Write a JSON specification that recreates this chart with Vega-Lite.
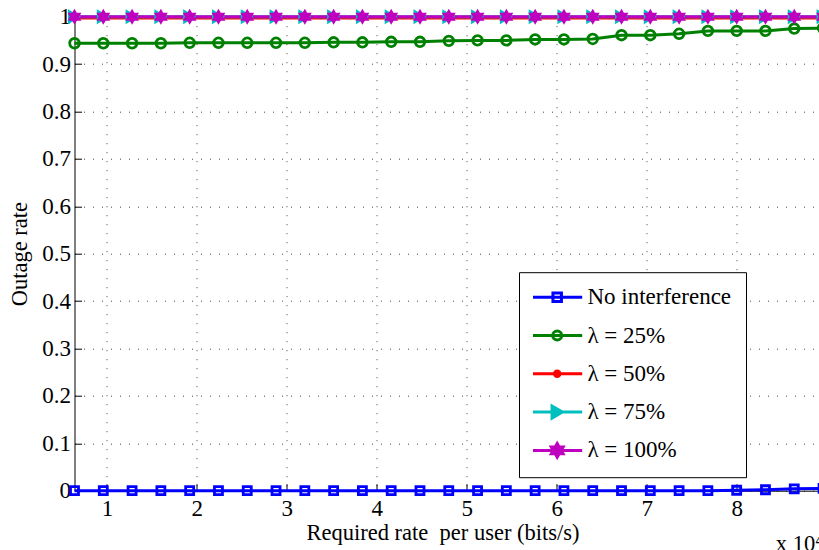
{
  "$schema": "https://vega.github.io/schema/vega-lite/v6.json",
  "width": 744.5,
  "height": 474,
  "autosize": "none",
  "padding": {"left": 74.5, "top": 16.7, "right": 0, "bottom": 59.3},
  "background": "white",
  "config": {
    "view": {"stroke": null},
    "font": "Liberation Serif",
    "axis": {
      "labelFont": "Liberation Serif",
      "labelFontSize": 23,
      "labelColor": "black",
      "titleFont": "Liberation Serif",
      "titleFontSize": 22.5,
      "titleFontWeight": "normal",
      "titleColor": "black",
      "domainColor": "black",
      "domainWidth": 1,
      "tickColor": "black",
      "tickSize": -7,
      "tickWidth": 1,
      "grid": true,
      "gridColor": "#444444",
      "gridDash": [1, 8],
      "gridWidth": 1,
      "gridOpacity": 1
    }
  },
  "title": {
    "text": "x 10⁴",
    "orient": "bottom",
    "anchor": "end",
    "frame": "group",
    "offset": 0,
    "font": "Liberation Serif",
    "fontSize": 22.5,
    "fontWeight": "normal",
    "color": "black",
    "dx": 4,
    "dy": -11
  },
  "data": {
    "values": [
      {"rate": 0.64, "outage": 0, "series": "No interference"},
      {"rate": 0.96, "outage": 0, "series": "No interference"},
      {"rate": 1.28, "outage": 0, "series": "No interference"},
      {"rate": 1.6, "outage": 0, "series": "No interference"},
      {"rate": 1.92, "outage": 0, "series": "No interference"},
      {"rate": 2.24, "outage": 0, "series": "No interference"},
      {"rate": 2.56, "outage": 0, "series": "No interference"},
      {"rate": 2.88, "outage": 0, "series": "No interference"},
      {"rate": 3.2, "outage": 0, "series": "No interference"},
      {"rate": 3.52, "outage": 0, "series": "No interference"},
      {"rate": 3.84, "outage": 0, "series": "No interference"},
      {"rate": 4.16, "outage": 0, "series": "No interference"},
      {"rate": 4.48, "outage": 0, "series": "No interference"},
      {"rate": 4.8, "outage": 0, "series": "No interference"},
      {"rate": 5.12, "outage": 0, "series": "No interference"},
      {"rate": 5.44, "outage": 0, "series": "No interference"},
      {"rate": 5.76, "outage": 0, "series": "No interference"},
      {"rate": 6.08, "outage": 0, "series": "No interference"},
      {"rate": 6.4, "outage": 0, "series": "No interference"},
      {"rate": 6.72, "outage": 0, "series": "No interference"},
      {"rate": 7.04, "outage": 0, "series": "No interference"},
      {"rate": 7.36, "outage": 0, "series": "No interference"},
      {"rate": 7.68, "outage": 0, "series": "No interference"},
      {"rate": 8.0, "outage": 0.001, "series": "No interference"},
      {"rate": 8.32, "outage": 0.002, "series": "No interference"},
      {"rate": 8.64, "outage": 0.004, "series": "No interference"},
      {"rate": 8.96, "outage": 0.005, "series": "No interference"},

      {"rate": 0.64, "outage": 0.944, "series": "λ = 25%"},
      {"rate": 0.96, "outage": 0.944, "series": "λ = 25%"},
      {"rate": 1.28, "outage": 0.944, "series": "λ = 25%"},
      {"rate": 1.6, "outage": 0.944, "series": "λ = 25%"},
      {"rate": 1.92, "outage": 0.945, "series": "λ = 25%"},
      {"rate": 2.24, "outage": 0.945, "series": "λ = 25%"},
      {"rate": 2.56, "outage": 0.945, "series": "λ = 25%"},
      {"rate": 2.88, "outage": 0.945, "series": "λ = 25%"},
      {"rate": 3.2, "outage": 0.945, "series": "λ = 25%"},
      {"rate": 3.52, "outage": 0.946, "series": "λ = 25%"},
      {"rate": 3.84, "outage": 0.946, "series": "λ = 25%"},
      {"rate": 4.16, "outage": 0.947, "series": "λ = 25%"},
      {"rate": 4.48, "outage": 0.947, "series": "λ = 25%"},
      {"rate": 4.8, "outage": 0.949, "series": "λ = 25%"},
      {"rate": 5.12, "outage": 0.95, "series": "λ = 25%"},
      {"rate": 5.44, "outage": 0.95, "series": "λ = 25%"},
      {"rate": 5.76, "outage": 0.952, "series": "λ = 25%"},
      {"rate": 6.08, "outage": 0.952, "series": "λ = 25%"},
      {"rate": 6.4, "outage": 0.953, "series": "λ = 25%"},
      {"rate": 6.72, "outage": 0.961, "series": "λ = 25%"},
      {"rate": 7.04, "outage": 0.961, "series": "λ = 25%"},
      {"rate": 7.36, "outage": 0.964, "series": "λ = 25%"},
      {"rate": 7.68, "outage": 0.97, "series": "λ = 25%"},
      {"rate": 8.0, "outage": 0.97, "series": "λ = 25%"},
      {"rate": 8.32, "outage": 0.97, "series": "λ = 25%"},
      {"rate": 8.64, "outage": 0.975, "series": "λ = 25%"},
      {"rate": 8.96, "outage": 0.976, "series": "λ = 25%"},

      {"rate": 0.64, "outage": 0.997, "series": "λ = 50%"},
      {"rate": 0.96, "outage": 0.997, "series": "λ = 50%"},
      {"rate": 1.28, "outage": 0.997, "series": "λ = 50%"},
      {"rate": 1.6, "outage": 0.997, "series": "λ = 50%"},
      {"rate": 1.92, "outage": 0.997, "series": "λ = 50%"},
      {"rate": 2.24, "outage": 0.997, "series": "λ = 50%"},
      {"rate": 2.56, "outage": 0.997, "series": "λ = 50%"},
      {"rate": 2.88, "outage": 0.997, "series": "λ = 50%"},
      {"rate": 3.2, "outage": 0.997, "series": "λ = 50%"},
      {"rate": 3.52, "outage": 0.997, "series": "λ = 50%"},
      {"rate": 3.84, "outage": 0.997, "series": "λ = 50%"},
      {"rate": 4.16, "outage": 0.997, "series": "λ = 50%"},
      {"rate": 4.48, "outage": 0.997, "series": "λ = 50%"},
      {"rate": 4.8, "outage": 0.997, "series": "λ = 50%"},
      {"rate": 5.12, "outage": 0.997, "series": "λ = 50%"},
      {"rate": 5.44, "outage": 0.997, "series": "λ = 50%"},
      {"rate": 5.76, "outage": 0.997, "series": "λ = 50%"},
      {"rate": 6.08, "outage": 0.997, "series": "λ = 50%"},
      {"rate": 6.4, "outage": 0.997, "series": "λ = 50%"},
      {"rate": 6.72, "outage": 0.997, "series": "λ = 50%"},
      {"rate": 7.04, "outage": 0.997, "series": "λ = 50%"},
      {"rate": 7.36, "outage": 0.997, "series": "λ = 50%"},
      {"rate": 7.68, "outage": 0.997, "series": "λ = 50%"},
      {"rate": 8.0, "outage": 0.997, "series": "λ = 50%"},
      {"rate": 8.32, "outage": 0.997, "series": "λ = 50%"},
      {"rate": 8.64, "outage": 0.997, "series": "λ = 50%"},
      {"rate": 8.96, "outage": 0.997, "series": "λ = 50%"},

      {"rate": 0.64, "outage": 1, "series": "λ = 75%"},
      {"rate": 0.96, "outage": 1, "series": "λ = 75%"},
      {"rate": 1.28, "outage": 1, "series": "λ = 75%"},
      {"rate": 1.6, "outage": 1, "series": "λ = 75%"},
      {"rate": 1.92, "outage": 1, "series": "λ = 75%"},
      {"rate": 2.24, "outage": 1, "series": "λ = 75%"},
      {"rate": 2.56, "outage": 1, "series": "λ = 75%"},
      {"rate": 2.88, "outage": 1, "series": "λ = 75%"},
      {"rate": 3.2, "outage": 1, "series": "λ = 75%"},
      {"rate": 3.52, "outage": 1, "series": "λ = 75%"},
      {"rate": 3.84, "outage": 1, "series": "λ = 75%"},
      {"rate": 4.16, "outage": 1, "series": "λ = 75%"},
      {"rate": 4.48, "outage": 1, "series": "λ = 75%"},
      {"rate": 4.8, "outage": 1, "series": "λ = 75%"},
      {"rate": 5.12, "outage": 1, "series": "λ = 75%"},
      {"rate": 5.44, "outage": 1, "series": "λ = 75%"},
      {"rate": 5.76, "outage": 1, "series": "λ = 75%"},
      {"rate": 6.08, "outage": 1, "series": "λ = 75%"},
      {"rate": 6.4, "outage": 1, "series": "λ = 75%"},
      {"rate": 6.72, "outage": 1, "series": "λ = 75%"},
      {"rate": 7.04, "outage": 1, "series": "λ = 75%"},
      {"rate": 7.36, "outage": 1, "series": "λ = 75%"},
      {"rate": 7.68, "outage": 1, "series": "λ = 75%"},
      {"rate": 8.0, "outage": 1, "series": "λ = 75%"},
      {"rate": 8.32, "outage": 1, "series": "λ = 75%"},
      {"rate": 8.64, "outage": 1, "series": "λ = 75%"},
      {"rate": 8.96, "outage": 1, "series": "λ = 75%"},

      {"rate": 0.64, "outage": 1, "series": "λ = 100%"},
      {"rate": 0.96, "outage": 1, "series": "λ = 100%"},
      {"rate": 1.28, "outage": 1, "series": "λ = 100%"},
      {"rate": 1.6, "outage": 1, "series": "λ = 100%"},
      {"rate": 1.92, "outage": 1, "series": "λ = 100%"},
      {"rate": 2.24, "outage": 1, "series": "λ = 100%"},
      {"rate": 2.56, "outage": 1, "series": "λ = 100%"},
      {"rate": 2.88, "outage": 1, "series": "λ = 100%"},
      {"rate": 3.2, "outage": 1, "series": "λ = 100%"},
      {"rate": 3.52, "outage": 1, "series": "λ = 100%"},
      {"rate": 3.84, "outage": 1, "series": "λ = 100%"},
      {"rate": 4.16, "outage": 1, "series": "λ = 100%"},
      {"rate": 4.48, "outage": 1, "series": "λ = 100%"},
      {"rate": 4.8, "outage": 1, "series": "λ = 100%"},
      {"rate": 5.12, "outage": 1, "series": "λ = 100%"},
      {"rate": 5.44, "outage": 1, "series": "λ = 100%"},
      {"rate": 5.76, "outage": 1, "series": "λ = 100%"},
      {"rate": 6.08, "outage": 1, "series": "λ = 100%"},
      {"rate": 6.4, "outage": 1, "series": "λ = 100%"},
      {"rate": 6.72, "outage": 1, "series": "λ = 100%"},
      {"rate": 7.04, "outage": 1, "series": "λ = 100%"},
      {"rate": 7.36, "outage": 1, "series": "λ = 100%"},
      {"rate": 7.68, "outage": 1, "series": "λ = 100%"},
      {"rate": 8.0, "outage": 1, "series": "λ = 100%"},
      {"rate": 8.32, "outage": 1, "series": "λ = 100%"},
      {"rate": 8.64, "outage": 1, "series": "λ = 100%"},
      {"rate": 8.96, "outage": 1, "series": "λ = 100%"}
    ]
  },
  "encoding": {
    "x": {
      "field": "rate",
      "type": "quantitative",
      "scale": {"domain": [0.64, 8.915], "nice": false, "zero": false},
      "axis": {
        "values": [1, 2, 3, 4, 5, 6, 7, 8],
        "format": "d",
        "labelPadding": 14,
        "title": "Required rate \u00a0per user (bits/s)",
        "titlePadding": 1,
        "titleX": 368
      }
    },
    "y": {
      "field": "outage",
      "type": "quantitative",
      "scale": {"domain": [0, 1], "nice": false},
      "axis": {
        "values": [0, 0.1, 0.2, 0.3, 0.4, 0.5, 0.6, 0.7, 0.8, 0.9, 1],
        "format": "~g",
        "labelPadding": 11,
        "title": "Outage rate",
        "titlePadding": 10
      }
    }
  },
  "layer": [
    {
      "mark": {"type": "line", "strokeWidth": 3},
      "encoding": {
        "color": {
          "field": "series",
          "type": "nominal",
          "scale": {
            "domain": ["No interference", "λ = 25%", "λ = 50%", "λ = 75%", "λ = 100%"],
            "range": ["#0000FF", "#008000", "#FF0000", "#00BFBF", "#BF00BF"]
          },
          "legend": {
            "orient": "none",
            "legendX": 444.5,
            "legendY": 255.5,
            "title": null,
            "padding": 14,
            "strokeColor": "black",
            "fillColor": "white",
            "labelFont": "Liberation Serif",
            "labelFontSize": 23,
            "labelColor": "black",
            "clipHeight": 22,
            "symbolSize": 100,
            "symbolStrokeWidth": 3,
            "symbolOffset": 12.7,
            "labelOffset": 18.7,
            "rowPadding": 15.3,
            "encode": {
              "symbols": {
                "update": {
                  "shape": {"signal": "['M-5,0H5M-0.85,-0.85H0.85V0.85H-0.85Z','M-5,0H5M-0.9,0A0.9,0.9 0 1,0 0.9,0A0.9,0.9 0 1,0 -0.9,0','M-5,0H5M-0.55,0A0.55,0.55 0 1,0 0.55,0A0.55,0.55 0 1,0 -0.55,0','M-5,0H5M-1.03,-1.2L1.03,0L-1.03,1.2Z','M-5,0H5M0,-1.36L-0.393,-0.68L-1.178,-0.68L-0.785,0L-1.178,0.68L-0.393,0.68L0,1.36L0.393,0.68L1.178,0.68L0.785,0L1.178,-0.68L0.393,-0.68Z'][indexof(['No interference','λ = 25%','λ = 50%','λ = 75%','λ = 100%'], datum.value)]"},
                  "fill": {"signal": "['transparent','transparent','#FF0000','#00BFBF','#BF00BF'][indexof(['No interference','λ = 25%','λ = 50%','λ = 75%','λ = 100%'], datum.value)]"},
                  "strokeWidth": {"value": 3},
                  "size": {"value": 100},
                  "opacity": {"value": 1}
                }
              }
            }
          }
        }
      }
    },
    {
      "transform": [{"filter": {"field": "series", "equal": "No interference"}}],
      "mark": {"type": "point", "shape": "M-0.5,-0.5H0.5V0.5H-0.5Z", "size": 256, "filled": false, "strokeWidth": 2.8, "color": "#0000FF", "opacity": 1}
    },
    {
      "transform": [{"filter": {"field": "series", "equal": "λ = 25%"}}],
      "mark": {"type": "point", "shape": "M-0.6,0A0.6,0.6 0 1,0 0.6,0A0.6,0.6 0 1,0 -0.6,0", "size": 256, "filled": false, "strokeWidth": 2.8, "color": "#008000", "opacity": 1}
    },
    {
      "transform": [{"filter": {"field": "series", "equal": "λ = 50%"}}],
      "mark": {"type": "point", "shape": "M-0.44,0A0.44,0.44 0 1,0 0.44,0A0.44,0.44 0 1,0 -0.44,0", "size": 256, "filled": true, "color": "#FF0000", "opacity": 1}
    },
    {
      "transform": [{"filter": {"field": "series", "equal": "λ = 75%"}}],
      "mark": {"type": "point", "shape": "M-0.81,-0.94L0.81,0L-0.81,0.94Z", "size": 256, "filled": true, "color": "#00BFBF", "opacity": 1}
    },
    {
      "transform": [{"filter": {"field": "series", "equal": "λ = 100%"}}],
      "mark": {"type": "point", "shape": "M0,-1L-0.289,-0.5L-0.866,-0.5L-0.577,0L-0.866,0.5L-0.289,0.5L0,1L0.289,0.5L0.866,0.5L0.577,0L0.866,-0.5L0.289,-0.5Z", "size": 256, "filled": true, "color": "#BF00BF", "opacity": 1}
    }
  ]
}
